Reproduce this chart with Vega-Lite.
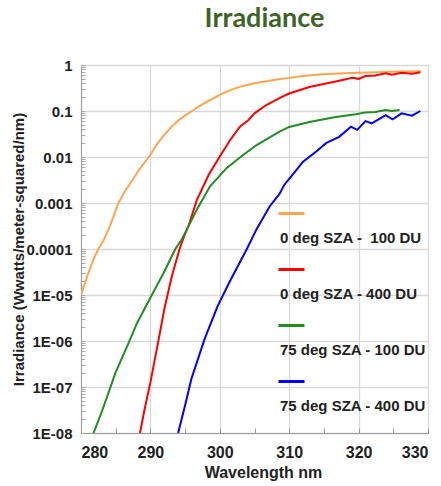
{
  "$schema": "https://vega.github.io/schema/vega-lite/v6.json",
  "autosize": {"type": "none"},
  "width": 347,
  "height": 368,
  "padding": {"left": 81, "top": 65, "right": 13, "bottom": 53},
  "background": "white",
  "title": {"text": "Irradiance", "font": "Lato", "fontSize": 27, "fontWeight": "bold", "color": "#3d6326", "anchor": "middle", "dx": 10, "baseline": "alphabetic", "offset": 4},
  "config": {
    "view": {"stroke": "#bfbfbf", "strokeWidth": 1},
    "font": "Liberation Sans"
  },
  "data": {"values": [
    {"s": "0 deg SZA - \u00a0100 DU", "wl": 280, "v": 1.0e-5},
    {"s": "0 deg SZA - \u00a0100 DU", "wl": 281, "v": 2.82e-5},
    {"s": "0 deg SZA - \u00a0100 DU", "wl": 281.9, "v": 6.46e-5},
    {"s": "0 deg SZA - \u00a0100 DU", "wl": 282.5, "v": 1.0e-4},
    {"s": "0 deg SZA - \u00a0100 DU", "wl": 283.3, "v": 1.58e-4},
    {"s": "0 deg SZA - \u00a0100 DU", "wl": 284.3, "v": 3.55e-4},
    {"s": "0 deg SZA - \u00a0100 DU", "wl": 285.4, "v": 1.0e-3},
    {"s": "0 deg SZA - \u00a0100 DU", "wl": 286.3, "v": 1.78e-3},
    {"s": "0 deg SZA - \u00a0100 DU", "wl": 287.2, "v": 2.82e-3},
    {"s": "0 deg SZA - \u00a0100 DU", "wl": 288.5, "v": 5.62e-3},
    {"s": "0 deg SZA - \u00a0100 DU", "wl": 290, "v": 0.0112},
    {"s": "0 deg SZA - \u00a0100 DU", "wl": 291, "v": 0.0195},
    {"s": "0 deg SZA - \u00a0100 DU", "wl": 292, "v": 0.0302},
    {"s": "0 deg SZA - \u00a0100 DU", "wl": 293, "v": 0.0447},
    {"s": "0 deg SZA - \u00a0100 DU", "wl": 294, "v": 0.0617},
    {"s": "0 deg SZA - \u00a0100 DU", "wl": 295, "v": 0.0794},
    {"s": "0 deg SZA - \u00a0100 DU", "wl": 296, "v": 0.1},
    {"s": "0 deg SZA - \u00a0100 DU", "wl": 297, "v": 0.126},
    {"s": "0 deg SZA - \u00a0100 DU", "wl": 298, "v": 0.155},
    {"s": "0 deg SZA - \u00a0100 DU", "wl": 299, "v": 0.186},
    {"s": "0 deg SZA - \u00a0100 DU", "wl": 300, "v": 0.224},
    {"s": "0 deg SZA - \u00a0100 DU", "wl": 301, "v": 0.263},
    {"s": "0 deg SZA - \u00a0100 DU", "wl": 302, "v": 0.302},
    {"s": "0 deg SZA - \u00a0100 DU", "wl": 303, "v": 0.339},
    {"s": "0 deg SZA - \u00a0100 DU", "wl": 304, "v": 0.372},
    {"s": "0 deg SZA - \u00a0100 DU", "wl": 306, "v": 0.427},
    {"s": "0 deg SZA - \u00a0100 DU", "wl": 308, "v": 0.479},
    {"s": "0 deg SZA - \u00a0100 DU", "wl": 310, "v": 0.525},
    {"s": "0 deg SZA - \u00a0100 DU", "wl": 312, "v": 0.575},
    {"s": "0 deg SZA - \u00a0100 DU", "wl": 314.3, "v": 0.62},
    {"s": "0 deg SZA - \u00a0100 DU", "wl": 317, "v": 0.655},
    {"s": "0 deg SZA - \u00a0100 DU", "wl": 320, "v": 0.676},
    {"s": "0 deg SZA - \u00a0100 DU", "wl": 323, "v": 0.7},
    {"s": "0 deg SZA - \u00a0100 DU", "wl": 326, "v": 0.724},
    {"s": "0 deg SZA - \u00a0100 DU", "wl": 329, "v": 0.733},

    {"s": "0 deg SZA - 400 DU", "wl": 288.5, "v": 1.0e-8},
    {"s": "0 deg SZA - 400 DU", "wl": 289.2, "v": 3.5e-8},
    {"s": "0 deg SZA - 400 DU", "wl": 290, "v": 1.26e-7},
    {"s": "0 deg SZA - 400 DU", "wl": 291.2, "v": 1.1e-6},
    {"s": "0 deg SZA - 400 DU", "wl": 292, "v": 4.9e-6},
    {"s": "0 deg SZA - 400 DU", "wl": 293.1, "v": 2.6e-5},
    {"s": "0 deg SZA - 400 DU", "wl": 294.2, "v": 1.0e-4},
    {"s": "0 deg SZA - 400 DU", "wl": 294.8, "v": 1.78e-4},
    {"s": "0 deg SZA - 400 DU", "wl": 295.5, "v": 3.2e-4},
    {"s": "0 deg SZA - 400 DU", "wl": 296.7, "v": 1.17e-3},
    {"s": "0 deg SZA - 400 DU", "wl": 298.4, "v": 4.1e-3},
    {"s": "0 deg SZA - 400 DU", "wl": 300, "v": 0.0102},
    {"s": "0 deg SZA - 400 DU", "wl": 301.5, "v": 0.0234},
    {"s": "0 deg SZA - 400 DU", "wl": 302.9, "v": 0.0457},
    {"s": "0 deg SZA - 400 DU", "wl": 304.1, "v": 0.063},
    {"s": "0 deg SZA - 400 DU", "wl": 305, "v": 0.089},
    {"s": "0 deg SZA - 400 DU", "wl": 306.7, "v": 0.135},
    {"s": "0 deg SZA - 400 DU", "wl": 308.6, "v": 0.19},
    {"s": "0 deg SZA - 400 DU", "wl": 310, "v": 0.24},
    {"s": "0 deg SZA - 400 DU", "wl": 312.9, "v": 0.331},
    {"s": "0 deg SZA - 400 DU", "wl": 316.7, "v": 0.437},
    {"s": "0 deg SZA - 400 DU", "wl": 319.1, "v": 0.525},
    {"s": "0 deg SZA - 400 DU", "wl": 320, "v": 0.5},
    {"s": "0 deg SZA - 400 DU", "wl": 321, "v": 0.575},
    {"s": "0 deg SZA - 400 DU", "wl": 322.4, "v": 0.589},
    {"s": "0 deg SZA - 400 DU", "wl": 323.9, "v": 0.661},
    {"s": "0 deg SZA - 400 DU", "wl": 324.8, "v": 0.617},
    {"s": "0 deg SZA - 400 DU", "wl": 326.2, "v": 0.676},
    {"s": "0 deg SZA - 400 DU", "wl": 327.7, "v": 0.646},
    {"s": "0 deg SZA - 400 DU", "wl": 328.9, "v": 0.692},

    {"s": "75 deg SZA - 100 DU", "wl": 281.8, "v": 1.0e-8},
    {"s": "75 deg SZA - 100 DU", "wl": 283, "v": 2.9e-8},
    {"s": "75 deg SZA - 100 DU", "wl": 285, "v": 2.1e-7},
    {"s": "75 deg SZA - 100 DU", "wl": 286.9, "v": 9.3e-7},
    {"s": "75 deg SZA - 100 DU", "wl": 288.1, "v": 2.5e-6},
    {"s": "75 deg SZA - 100 DU", "wl": 290, "v": 8.7e-6},
    {"s": "75 deg SZA - 100 DU", "wl": 291.9, "v": 3.0e-5},
    {"s": "75 deg SZA - 100 DU", "wl": 293.6, "v": 1.0e-4},
    {"s": "75 deg SZA - 100 DU", "wl": 294.5, "v": 1.6e-4},
    {"s": "75 deg SZA - 100 DU", "wl": 295, "v": 2.24e-4},
    {"s": "75 deg SZA - 100 DU", "wl": 296.7, "v": 7.2e-4},
    {"s": "75 deg SZA - 100 DU", "wl": 298.6, "v": 2.3e-3},
    {"s": "75 deg SZA - 100 DU", "wl": 301, "v": 5.8e-3},
    {"s": "75 deg SZA - 100 DU", "wl": 303.4, "v": 0.0112},
    {"s": "75 deg SZA - 100 DU", "wl": 305.3, "v": 0.0182},
    {"s": "75 deg SZA - 100 DU", "wl": 308.6, "v": 0.0355},
    {"s": "75 deg SZA - 100 DU", "wl": 310, "v": 0.045},
    {"s": "75 deg SZA - 100 DU", "wl": 312.9, "v": 0.0575},
    {"s": "75 deg SZA - 100 DU", "wl": 316.7, "v": 0.0741},
    {"s": "75 deg SZA - 100 DU", "wl": 319.6, "v": 0.0851},
    {"s": "75 deg SZA - 100 DU", "wl": 321, "v": 0.0933},
    {"s": "75 deg SZA - 100 DU", "wl": 322.4, "v": 0.0955},
    {"s": "75 deg SZA - 100 DU", "wl": 323.9, "v": 0.105},
    {"s": "75 deg SZA - 100 DU", "wl": 324.8, "v": 0.1},
    {"s": "75 deg SZA - 100 DU", "wl": 325.9, "v": 0.105},

    {"s": "75 deg SZA - 400 DU", "wl": 294, "v": 1.0e-8},
    {"s": "75 deg SZA - 400 DU", "wl": 295, "v": 4.0e-8},
    {"s": "75 deg SZA - 400 DU", "wl": 295.9, "v": 1.5e-7},
    {"s": "75 deg SZA - 400 DU", "wl": 297.8, "v": 1.1e-6},
    {"s": "75 deg SZA - 400 DU", "wl": 299.7, "v": 5.8e-6},
    {"s": "75 deg SZA - 400 DU", "wl": 301.6, "v": 2.2e-5},
    {"s": "75 deg SZA - 400 DU", "wl": 303.9, "v": 1.0e-4},
    {"s": "75 deg SZA - 400 DU", "wl": 305.3, "v": 2.7e-4},
    {"s": "75 deg SZA - 400 DU", "wl": 307.2, "v": 8.5e-4},
    {"s": "75 deg SZA - 400 DU", "wl": 308.6, "v": 1.58e-3},
    {"s": "75 deg SZA - 400 DU", "wl": 309.3, "v": 2.5e-3},
    {"s": "75 deg SZA - 400 DU", "wl": 310.3, "v": 3.8e-3},
    {"s": "75 deg SZA - 400 DU", "wl": 312, "v": 7.9e-3},
    {"s": "75 deg SZA - 400 DU", "wl": 313.9, "v": 0.0132},
    {"s": "75 deg SZA - 400 DU", "wl": 315.3, "v": 0.02},
    {"s": "75 deg SZA - 400 DU", "wl": 317.2, "v": 0.0275},
    {"s": "75 deg SZA - 400 DU", "wl": 318.9, "v": 0.0457},
    {"s": "75 deg SZA - 400 DU", "wl": 319.8, "v": 0.0389},
    {"s": "75 deg SZA - 400 DU", "wl": 321, "v": 0.0603},
    {"s": "75 deg SZA - 400 DU", "wl": 321.9, "v": 0.0537},
    {"s": "75 deg SZA - 400 DU", "wl": 323.9, "v": 0.0813},
    {"s": "75 deg SZA - 400 DU", "wl": 324.9, "v": 0.066},
    {"s": "75 deg SZA - 400 DU", "wl": 326.2, "v": 0.089},
    {"s": "75 deg SZA - 400 DU", "wl": 327.7, "v": 0.0794},
    {"s": "75 deg SZA - 400 DU", "wl": 328.9, "v": 0.1}
  ]},
  "mark": {"type": "line", "strokeWidth": 2, "clip": true},
  "encoding": {
    "x": {"field": "wl", "type": "quantitative",
      "scale": {"domain": [280, 330], "nice": false, "zero": false},
      "axis": {"title": "Wavelength nm", "titleFontSize": 16, "titleFont": "Liberation Sans", "titleFontWeight": "bold", "titleColor": "#222", "titlePadding": 4, "titleX": 182, "titleAlign": "center",
        "values": [280, 285, 290, 295, 300, 305, 310, 315, 320, 325, 330],
        "labelExpr": "datum.value % 10 == 0 ? datum.label : ''",
        "labelFontSize": 16, "labelFontWeight": "bold", "labelColor": "#222", "labelPadding": 16, "labelOverlap": false,
        "tickSize": -5, "tickColor": "#999",
        "gridColor": {"condition": {"test": "datum.value % 10 == 0", "value": "#d9d9d9"}, "value": "transparent"},
        "gridWidth": 1.3,
        "domainColor": "#999"}
    },
    "y": {"field": "v", "type": "quantitative",
      "scale": {"type": "log", "domain": [1e-8, 1], "nice": false},
      "axis": {"title": "Irradiance (Wwatts/meter-squared/nm)", "titleFontSize": 15, "titleFont": "Liberation Sans", "titleFontWeight": "bold", "titleColor": "#222", "titlePadding": 0,
        "values": [1e-8,2e-8,3e-8,4e-8,5e-8,6e-8,7e-8,8e-8,9e-8,1e-7,2e-7,3e-7,4e-7,5e-7,6e-7,7e-7,8e-7,9e-7,1e-6,2e-6,3e-6,4e-6,5e-6,6e-6,7e-6,8e-6,9e-6,1e-5,2e-5,3e-5,4e-5,5e-5,6e-5,7e-5,8e-5,9e-5,1e-4,2e-4,3e-4,4e-4,5e-4,6e-4,7e-4,8e-4,9e-4,1e-3,2e-3,3e-3,4e-3,5e-3,6e-3,7e-3,8e-3,9e-3,0.01,0.02,0.03,0.04,0.05,0.06,0.07,0.08,0.09,0.1,0.2,0.3,0.4,0.5,0.6,0.7,0.8,0.9,1],
        "labelExpr": "abs(log(datum.value)/LN10 - round(log(datum.value)/LN10)) > 0.01 ? '' : ['1','0.1','0.01','0.001','0.0001','1E-05','1E-06','1E-07','1E-08'][round(-log(datum.value)/LN10)]",
        "labelFontSize": 15, "labelFontWeight": "bold", "labelColor": "#222", "labelPadding": 13, "labelOverlap": false,
        "tickSize": -4, "tickColor": "#aaa",
        "gridColor": {"condition": {"test": "abs(log(datum.value)/LN10 - round(log(datum.value)/LN10)) < 0.01", "value": "#d9d9d9"}, "value": "transparent"},
        "gridWidth": 1.3,
        "domainColor": "#999"}
    },
    "color": {"field": "s", "type": "nominal",
      "scale": {"domain": ["0 deg SZA - \u00a0100 DU", "0 deg SZA - 400 DU", "75 deg SZA - 100 DU", "75 deg SZA - 400 DU"], "range": ["#ffa552", "#ff0000", "#238b23", "#0000ff"]},
      "legend": {"title": null, "orient": "none", "legendX": 196, "legendY": 134,
        "symbolType": "stroke", "symbolSize": 676, "symbolStrokeWidth": 3,
        "labelExpr": "['', datum.label]", "labelBaseline": "top", "labelLineHeight": 20,
        "labelOffset": -26, "labelFontSize": 15, "labelFontWeight": "bold", "labelColor": "#222", "labelLimit": 300,
        "rowPadding": 9, "padding": 0}
    }
  }
}
